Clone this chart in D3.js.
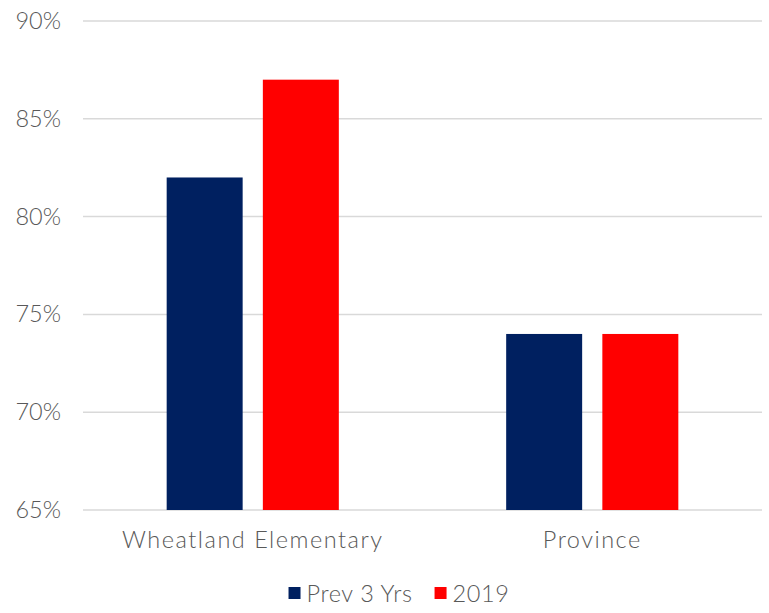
<!DOCTYPE html>
<html>
<head>
<meta charset="utf-8">
<script src="https://cdn.jsdelivr.net/npm/d3@7"></script>
<style>
  html, body { margin: 0; padding: 0; background: #ffffff; }
  svg { display: block; }
  text { font-family: Lato, "Open Sans", sans-serif; font-weight: 300; fill: #595959; }
</style>
</head>
<body>
<svg id="chart" width="769" height="613"></svg>
<script>
// ---- data ----
const categories = ["Wheatland Elementary", "Province"];
const seriesNames = ["Prev 3 Yrs", "2019"];
const prev3Yrs = [0.82, 0.74];
const y2019 = [0.87, 0.74];
const yTicks = [0.65, 0.70, 0.75, 0.80, 0.85, 0.90];
const seriesColors = ["#002060", "#ff0000"];

const seriesValues = [prev3Yrs, y2019];

const svg = d3.select("#chart");
const plot = { left: 83, right: 762, top: 21, bottom: 510 };
const FONT = "Lato, 'Open Sans', sans-serif";

const x0 = d3.scaleBand().domain(categories).range([plot.left, plot.right]).paddingInner(0).paddingOuter(0);
const x1 = d3.scaleBand().domain(seriesNames).range([0, x0.bandwidth()]).paddingInner(0.21).paddingOuter(0.87);
const y = d3.scaleLinear().domain([0.65, 0.90]).range([plot.bottom, plot.top]);

// gridlines
svg.append("g")
  .selectAll("line")
  .data(yTicks)
  .join("line")
  .attr("x1", plot.left).attr("x2", plot.right)
  .attr("y1", d => y(d)).attr("y2", d => y(d))
  .attr("stroke", "#d9d9d9")
  .attr("stroke-width", 1.5);

// y axis labels
const yAxis = d3.axisLeft(y).tickValues(yTicks).tickFormat(d3.format(".0%")).tickSize(0).tickPadding(0);
const yg = svg.append("g").attr("transform", `translate(61,0)`).call(yAxis);
yg.select(".domain").remove();
yg.selectAll("text").attr("font-size", 23.5).attr("fill", "#595959")
  .style("font-family", FONT).style("font-weight", 300);

// bars
const groups = svg.append("g").selectAll("g")
  .data(categories)
  .join("g")
  .attr("transform", d => `translate(${x0(d)},0)`);

groups.selectAll("rect")
  .data((c, i) => seriesNames.map((s, j) => ({ s, v: seriesValues[j][i], j })))
  .join("rect")
  .attr("x", d => x1(d.s))
  .attr("width", x1.bandwidth())
  .attr("y", d => y(d.v))
  .attr("height", d => y(0.65) - y(d.v))
  .attr("fill", d => seriesColors[d.j]);

// x axis (category labels)
const xAxis = d3.axisBottom(x0).tickSize(0).tickPadding(0);
const xg = svg.append("g").attr("transform", `translate(0,${plot.bottom})`).call(xAxis);
xg.select(".domain").remove();
xg.selectAll("text").attr("font-size", 23.5).attr("dy", null).attr("y", 37.5)
  .attr("fill", "#595959")
  .style("font-family", FONT).style("font-weight", 300)
  .style("letter-spacing", "1.5px");

// legend
const legend = svg.append("g");
const items = legend.selectAll("g").data(seriesNames).join("g");
items.append("rect").attr("width", 12).attr("height", 12).attr("y", 587)
  .attr("fill", (d, i) => seriesColors[i]);
items.append("text").text(d => d).attr("font-size", 23.5).attr("y", 601.5)
  .attr("x", 18).style("letter-spacing", "0.6px");
const gap = 22;
const widths = [];
items.each(function() { widths.push(18 + d3.select(this).select("text").node().getComputedTextLength()); });
const total = d3.sum(widths) + gap * (widths.length - 1);
let start = 399 - total / 2;
items.attr("transform", (d, i) => {
  const t = `translate(${start},0)`;
  start += widths[i] + gap;
  return t;
});
</script>
</body>
</html>
